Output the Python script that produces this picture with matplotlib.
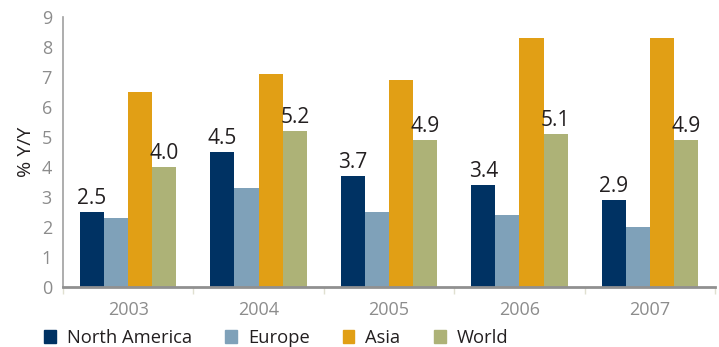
# GDP growth by region, 2003-2007
import numpy as np
import matplotlib.pyplot as plt
from matplotlib.patches import Patch

plt.rcParams['font.family'] = ['Open Sans', 'DejaVu Sans']

years = ["2003", "2004", "2005", "2006", "2007"]
north_america = [2.5, 4.5, 3.7, 3.4, 2.9]
europe = [2.3, 3.3, 2.5, 2.4, 2.0]
asia = [6.5, 7.1, 6.9, 8.3, 8.3]
world = [4.0, 5.2, 4.9, 5.1, 4.9]

series = [("North America", north_america, "#003263"),
          ("Europe", europe, "#7fa1b9"),
          ("Asia", asia, "#e19f15"),
          ("World", world, "#adb277")]

fig = plt.figure(figsize=(7.19, 3.47), dpi=100)
ax = fig.add_axes([63 / 719, 1 - 287 / 347, (715 - 63) / 719, (287 - 17) / 347])

x = np.arange(len(years))
w = 0.185
for i, (name, vals, col) in enumerate(series):
    bars = ax.bar(x + (i - 1.5) * w, vals, w, color=col, label=name)
    # only North America and World get value labels
    if name in ("North America", "World"):
        for b, v in zip(bars, vals):
            ax.text(b.get_x() + b.get_width() / 2, v + 0.1, f"{v:.1f}",
                    ha="center", va="bottom", fontsize=15, color="#231f20")

ax.set_xlim(-0.5, 4.5)
ax.set_ylim(0, 9)
ax.set_yticks(range(10))
ax.set_xticks(x)
ax.set_xticklabels(years)
ax.set_xticks(np.arange(-0.5, 5, 1), minor=True)
ax.tick_params(axis="x", which="major", length=0, pad=10, labelsize=13, labelcolor="#8c8c8c")
ax.tick_params(axis="x", which="minor", length=5, color="#e0e0d0", width=1)
ax.tick_params(axis="y", length=0, pad=8, labelsize=13, labelcolor="#8c8c8c")

for s in ["top", "right"]:
    ax.spines[s].set_visible(False)
ax.spines["left"].set_color("#a0a0a0")
ax.spines["left"].set_linewidth(1.2)
ax.spines["bottom"].set_color("#909090")
ax.spines["bottom"].set_linewidth(2)

ax.set_ylabel("% Y/Y", fontsize=14, color="#231f20", labelpad=5)

handles = [Patch(color=col, label=name) for name, _, col in series]
fig.legend(handles=handles, loc="center left", bbox_to_anchor=(31 / 719, 1 - 338 / 347),
           ncol=4, frameon=False, fontsize=13.2, handlelength=0.65, handleheight=0.65,
           handletextpad=0.6, columnspacing=1.8, labelcolor="#231f20",
           borderpad=0.2)

fig.savefig("out.png", dpi=100)
